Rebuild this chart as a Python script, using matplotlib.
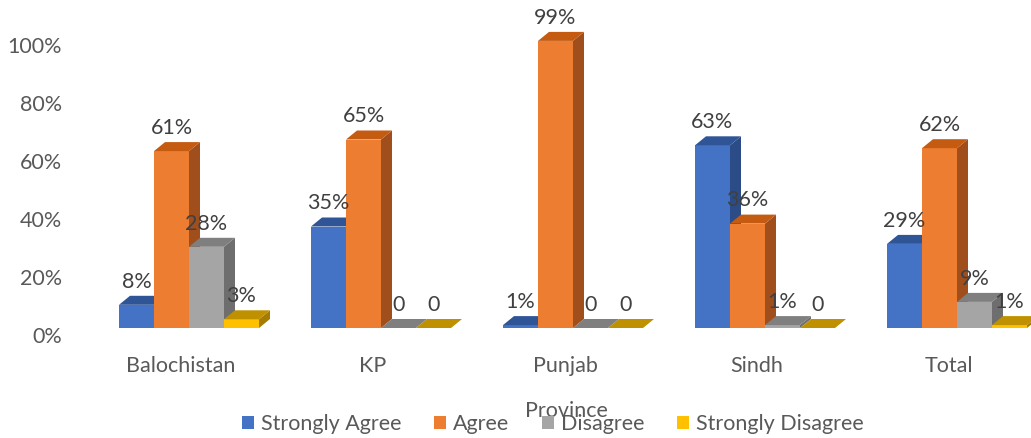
import matplotlib
matplotlib.use("Agg")
import matplotlib.pyplot as plt
from matplotlib.patches import Polygon, Patch

provinces = ["Balochistan", "KP", "Punjab", "Sindh", "Total"]
series = ["Strongly Agree", "Agree", "Disagree", "Strongly Disagree"]
strongly_agree = [8, 35, 1, 63, 29]
agree = [61, 65, 99, 36, 62]
disagree = [28, 0, 0, 1, 9]
strongly_disagree = [3, 0, 0, 0, 1]
y_ticks = [0, 20, 40, 60, 80, 100]

values = [strongly_agree, agree, disagree, strongly_disagree]
front = ["#4472C4", "#ED7D31", "#A5A5A5", "#FFC000"]
top = ["#2F5597", "#C55A11", "#7F7F7F", "#BF9000"]
side = ["#2B4C86", "#A04E1C", "#6E6E6E", "#A57C00"]

text_col = "#595959"
fs = 15.5
plt.rcParams["font.family"] = ["Lato", "DejaVu Sans"]

W, H, DPI = 1031, 438, 100
fig = plt.figure(figsize=(W / DPI, H / DPI), dpi=DPI)
# axes spans from x=70px to the right edge, full height
ax = fig.add_axes([70 / W, 0, 1 - 70 / W, 1])
ax.set_axis_off()

px_x = 192.0   # pixels per category
px_y = 2.9     # pixels per percent
x0_px, y0_px = 189, 328  # first group centre and baseline, in image pixels
ax.set_xlim((70 - x0_px) / px_x, (W - x0_px) / px_x)
ax.set_ylim(-(H - y0_px) / px_y, y0_px / px_y)

bw = 35 / px_x
dx = 11 / px_x
dy = 9 / px_y
pt = 0.72  # points per pixel at 100 dpi

for i in range(len(provinces)):
    start = i - 2 * bw
    for j in range(len(series)):
        v = values[j][i]
        x = start + j * bw
        if v > 0:
            ax.add_patch(Polygon([(x, 0), (x + bw, 0), (x + bw, v), (x, v)],
                                 closed=True, fc=front[j], ec="none"))
        ax.add_patch(Polygon([(x + bw, 0), (x + bw + dx, dy), (x + bw + dx, v + dy), (x + bw, v)],
                             closed=True, fc=side[j], ec="none"))
        ax.add_patch(Polygon([(x, v), (x + bw, v), (x + bw + dx, v + dy), (x + dx, v + dy)],
                             closed=True, fc=top[j], ec="none"))
        lab = f"{v}%" if v > 0 else "0"
        ax.annotate(lab, (x + bw / 2, v + dy), xytext=(0, 3), textcoords="offset points",
                    ha="center", va="bottom", fontsize=fs, color="#404040")
    ax.annotate(provinces[i], (i, 0), xytext=(-8 * pt, -38 * pt), textcoords="offset points",
                ha="center", va="center", fontsize=fs, color=text_col)

for t in y_ticks:
    ax.annotate(f"{t}%", ((70 - x0_px) / px_x, t), xytext=(-8 * pt, -9 * pt),
                textcoords="offset points", ha="right", va="center",
                fontsize=fs, color=text_col, annotation_clip=False)

fig.text(566 / W, 1 - 411 / H, "Province", ha="center", va="center", fontsize=fs, color=text_col)

handles = [Patch(fc=c, ec="none") for c in front]
fig.legend(handles, series, loc="center", bbox_to_anchor=(553 / W, 1 - 424 / H), ncol=4,
           frameon=False, fontsize=fs, labelcolor=text_col, handlelength=0.55, handleheight=0.55,
           handletextpad=0.35, columnspacing=1.5, borderpad=0)

fig.savefig("out.png", dpi=DPI)
